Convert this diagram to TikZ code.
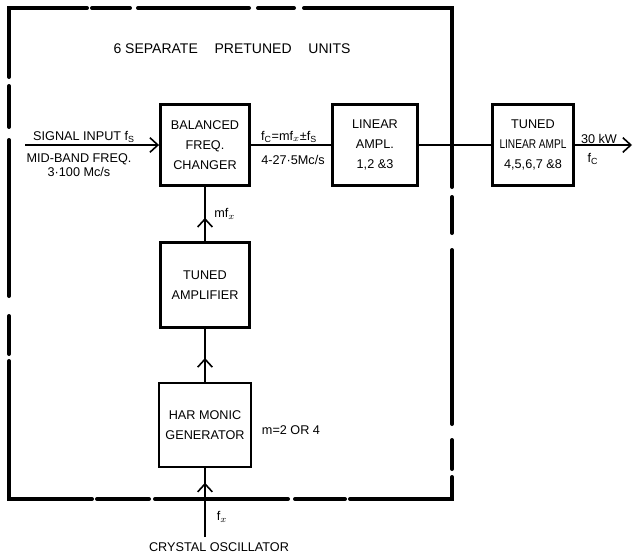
\documentclass[tikz,border=0pt]{standalone}
\usepackage{fontspec}
\setmainfont{Liberation Sans}
\usetikzlibrary{arrows.meta,decorations.markings}

\tikzset{
  unit/.style={draw, line width=1.9pt, minimum width=67pt, minimum height=61pt,
    inner sep=2pt, align=center, font=\fontsize{9.5}{15}\selectfont},
  lbl/.style={inner sep=0pt, align=center, font=\fontsize{9.5}{10.5}\selectfont},
  wire/.style={line width=1.2pt},
  barb/.style={-{Straight Barb[length=6pt,width=11pt]}},
  midarrow/.style={postaction={decorate}, decoration={markings,
    mark=at position #1 with {\arrow{Straight Barb[length=6pt,width=11pt]}}}},
  border/.style={line width=3pt, line cap=round}
}

\begin{document}
\begin{tikzpicture}[x=0.75pt, y=-0.75pt, node distance=105pt]
\useasboundingbox (0,0) rectangle (635,557);

% units
\node (changer)[unit] at (205,145) {BALANCED\\FREQ.\\CHANGER};
\node (linamp)[unit, minimum width=64pt] [right of = changer, node distance=127.5pt] {LINEAR\\AMPL.\\1,2 \&3};
\node (tunedlin)[unit, minimum width=61pt] [right of = linamp, node distance=118.5pt] {TUNED\\\scalebox{0.8}[1]{LINEAR AMPL}\\4,5,6,7 \&8};
\node (tunedamp)[unit, minimum height=64pt] [below of = changer] {TUNED\\AMPLIFIER};
\node (harmonic)[unit, minimum width=69pt, minimum height=63pt] [below of = tunedamp] {HAR MONIC\\GENERATOR};

% free ends
\coordinate (sigin) at (25,145);
\coordinate (out) at (632,145);
\coordinate (xtalin) at (205,537);

% connectors
\draw[wire, barb] (sigin) -- (changer);
\draw[wire] (changer) -- (linamp);
\draw[wire] (linamp) -- (tunedlin);
\draw[wire, barb] (tunedlin) -- (out);
\draw[wire, midarrow=0.43] (tunedamp) -- (changer);
\draw[wire, midarrow=0.45] (harmonic) -- (tunedamp);
\draw[wire, midarrow=0.79] (xtalin) -- (harmonic);

% dashed enclosure
\draw[border] (9,77) -- (9,8) -- (87,8);
\foreach \a/\b in {92/130, 138/249, 258/294} \draw[border] (\a,8) -- (\b,8);
\draw[border] (304,8) -- (452,8) -- (452,187);
\foreach \a/\b in {197/233, 250/424, 440/469} \draw[border] (452,\a) -- (452,\b);
\draw[border] (350,499) -- (452,499) -- (452,477);
\foreach \a/\b in {97/149, 155/288, 295/345} \draw[border] (\a,499) -- (\b,499);
\draw[border] (92,499) -- (9,499) -- (9,361);
\foreach \a/\b in {86/127, 140/296, 316/354} \draw[border] (9,\a) -- (9,\b);

% labels
\node (title)[lbl, font=\fontsize{10.5}{12}\selectfont] at (232,49) {6 SEPARATE\hspace{1.2em}PRETUNED\hspace{1.2em}UNITS};
\node (siglbl)[lbl] at (84,137) {SIGNAL INPUT f\textsubscript{S}};
\node (midband)[lbl] at (79,165) {MID-BAND FREQ.\\3·100 Mc/s};
\node (fclbl)[lbl] at (289,137) {f\textsubscript{C}=mf$_x$±f\textsubscript{S}};
\node (fcrange)[lbl] at (293,160) {4-27·5Mc/s};
\node (mflbl)[lbl, anchor=west] at (214,214) {mf$_x$};
\node (mlbl)[lbl] at (291,430) {m=2 OR 4};
\node (kwlbl)[lbl] at (599,139) {30 kW};
\node (fcout)[lbl] at (593,159) {f\textsubscript{C}};
\node (fxlbl)[lbl] at (222,517) {f$_x$};
\node (xtal)[lbl] at (219,547) {CRYSTAL OSCILLATOR};
\end{tikzpicture}
\end{document}
